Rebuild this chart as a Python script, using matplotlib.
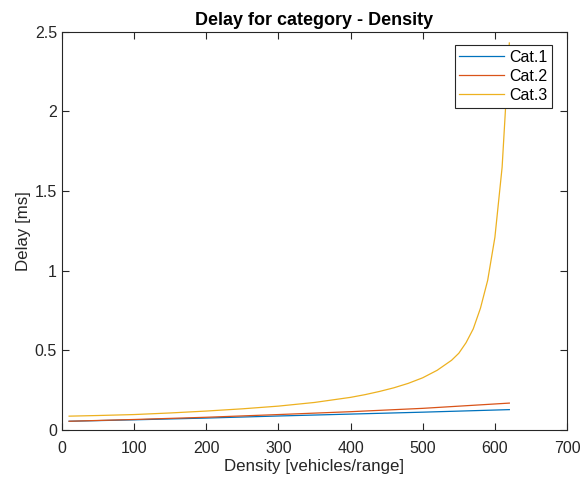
import matplotlib.pyplot as plt

plt.rcParams['font.family'] = ['Liberation Sans', 'DejaVu Sans']

density1 = [10, 100, 200, 300, 400, 500, 620]
cat1 = [0.055, 0.064, 0.075, 0.088, 0.100, 0.112, 0.128]
density2 = [10, 100, 200, 300, 400, 500, 620]
cat2 = [0.055, 0.066, 0.080, 0.097, 0.115, 0.136, 0.169]
density3 = [10, 50, 100, 150, 200, 250, 300, 350, 400, 420, 440, 460, 480,
            500, 520, 540, 550, 560, 570, 580, 590, 600, 610, 620]
cat3 = [0.087, 0.091, 0.097, 0.107, 0.119, 0.133, 0.150, 0.173, 0.205, 0.222,
        0.242, 0.265, 0.293, 0.328, 0.375, 0.438, 0.482, 0.548, 0.635, 0.765,
        0.940, 1.210, 1.650, 2.430]

fig = plt.figure(figsize=(5.84, 4.78), dpi=100)
ax = fig.add_axes([0.106, 0.1004, 0.865, 0.833])

ax.plot(density1, cat1, color='#0072BD', lw=0.9, label='Cat.1')
ax.plot(density2, cat2, color='#D95319', lw=0.9, label='Cat.2')
ax.plot(density3, cat3, color='#EDB120', lw=0.9, label='Cat.3')

ax.set_xlim(0, 700)
ax.set_ylim(0, 2.5)
ax.set_xticks([0, 100, 200, 300, 400, 500, 600, 700])
ax.set_yticks([0, 0.5, 1, 1.5, 2, 2.5])
ax.set_yticklabels(['0', '0.5', '1', '1.5', '2', '2.5'])

ax.tick_params(direction='in', top=True, right=True, length=5, width=0.8,
               labelsize=11.5, colors='#262626')
ax.tick_params(axis='x', pad=8)
for s in ax.spines.values():
    s.set_color('#262626')
    s.set_linewidth(0.8)

ax.set_title('Delay for category - Density', fontsize=13, fontweight='bold',
             color='#000000', pad=5)
ax.set_xlabel('Density [vehicles/range]', fontsize=12.2, color='#262626', labelpad=2)
ax.set_ylabel('Delay [ms]', fontsize=12.2, color='#262626', labelpad=3)

leg = ax.legend(loc='upper right', bbox_to_anchor=(0.97, 0.967), fontsize=11.5,
                fancybox=False, framealpha=1, edgecolor='#262626',
                handlelength=2.8, handletextpad=0.3, borderpad=0.3,
                labelspacing=0.25, borderaxespad=0)
leg.get_frame().set_linewidth(0.8)

fig.savefig('out.png', dpi=100)
